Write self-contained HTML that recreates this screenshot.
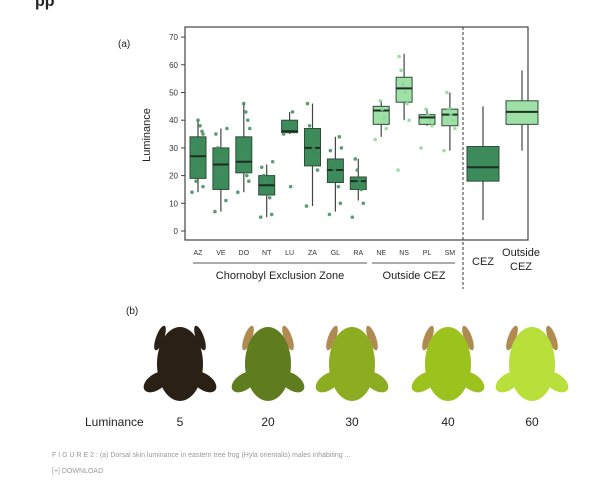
<!DOCTYPE html>
<html><head><meta charset="utf-8"><style>
body{margin:0;width:614px;height:489px;background:#fff;overflow:hidden;font-family:"Liberation Sans",sans-serif;}
svg{position:absolute;left:0;top:0}
</style></head><body>
<svg id="s" width="614" height="489">
<text x="35" y="6" font-size="16" font-weight="bold" fill="#222">pp</text>
<text x="118" y="47" font-size="10" fill="#222">(a)</text>
<rect x="185" y="27" width="343" height="213" fill="none" stroke="#444" stroke-width="1.2"/>
<line x1="463" y1="27" x2="463" y2="289" stroke="#333" stroke-dasharray="3,2"/>
<text transform="translate(150,135) rotate(-90)" text-anchor="middle" font-size="11" fill="#222">Luminance</text>
<g id="plot"></g>
<line x1="193" y1="263" x2="367" y2="263" stroke="#555"/>
<line x1="372" y1="263" x2="455" y2="263" stroke="#555"/>
<text x="280" y="279" text-anchor="middle" font-size="11" fill="#222">Chornobyl Exclusion Zone</text>
<text x="414" y="279" text-anchor="middle" font-size="11" fill="#222">Outside CEZ</text>
<text x="483" y="265" text-anchor="middle" font-size="11" fill="#222">CEZ</text>
<text x="521" y="256" text-anchor="middle" font-size="11" fill="#222">Outside</text>
<text x="521" y="270" text-anchor="middle" font-size="11" fill="#222">CEZ</text>
<text x="126" y="314" font-size="10" fill="#222">(b)</text>
<g id="frogs"></g>
<text x="85" y="426" font-size="12" fill="#222">Luminance</text>
<text x="52" y="457" font-size="7" fill="#999">F I G U R E 2 : (a) Dorsal skin luminance in eastern tree frog (Hyla orientalis) males inhabiting ...</text>
<text x="52" y="473" font-size="7" fill="#999">[+]  DOWNLOAD</text>
</svg>
<script>
const cats=["AZ","VE","DO","NT","LU","ZA","GL","RA","NE","NS","PL","SM"];
const q1=[19,15,21,13,35.5,23.5,17.5,15,38.5,46.5,38.5,38];
const med=[27,24,25,16.5,36,30,22,18,43.5,51.5,41,42];
const q3=[34,30,34,20,40,37,26,19.5,45,55.5,42,44];
const lo=[14,7,14,5,35,9,7,11,34,40,38,29];
const hi=[40,37,46,24,43,46,34,26,47,64,44,50];
const pts=[[14,16,20,22,25,28,30,33,36,38,40,18,24,31,35],[7,11,18,22,26,30,35,37],[14,18,20,23,27,30,33,37,40,43,46],[5,6,12,15,18,20,23,25],[35,38,43,16],[9,22,26,30,34,38,46],[6,10,16,19,22,25,29,30,34],[5,10,15,18,22,26],[33,37,41,44,47],[22,40,46,50,53,58,63],[30,38,40,42,44],[29,37,40,42,44,50]];
const sumCats=["CEZ","Outside CEZ"];
const sq1=[18,38.5],smed=[23,43],sq3=[30.5,47],slo=[4,29],shi=[45,58];
const yTicks=[0,10,20,30,40,50,60,70];
const frogLum=[5,20,30,40,60];
const frogCol=["#2b2016","#5f7d1f","#8cad22","#9cc21e","#b9df3a"];
const NS="http://www.w3.org/2000/svg";
function y(v){return 231-v*2.77;}
function x(i){return 198+i*22.9;}
function sx(i){return 483+i*39;}
function mk(t,a,p){const e=document.createElementNS(NS,t);for(const k in a)e.setAttribute(k,a[k]);(p||g).appendChild(e);return e;}
const g=document.getElementById('plot');
yTicks.forEach(v=>{
  const l=mk('line',{x1:181,x2:185,y1:y(v),y2:y(v),stroke:'#444'});
  
  
  const t=mk('text',{x:178,y:y(v)+3,'text-anchor':'end','font-size':8,fill:'#333'});t.textContent=v;
  
  
});
function box(cx,w,a,m,b,l,h,fill,name){
  const wl=mk('line',{x1:cx,x2:cx,y1:y(h),y2:y(l),stroke:'#444','stroke-width':1.2});
  
  
  const r=mk('rect',{x:cx-w/2,y:y(b),width:w,height:y(a)-y(b),fill:fill,stroke:'#2e4d38','stroke-width':1});
  
  
  const ml=mk('line',{x1:cx-w/2,x2:cx+w/2,y1:y(m),y2:y(m),stroke:'#1d2e22','stroke-width':2});
  
  
}
cats.forEach((c,i)=>{
  const out=i>=8;
  box(x(i),16,q1[i],med[i],q3[i],lo[i],hi[i],out?'#9fe0a6':'#3d8a5a','box-'+c.toLowerCase());
  pts[i].forEach((v,j)=>{
    const p=mk('circle',{cx:x(i)+((j*37)%13-6),cy:y(v),r:1.8,fill:out?'#8ed69a':'#3f8d5c',opacity:0.85});
    
    
  });
  const t=mk('text',{x:x(i),y:255,'text-anchor':'middle','font-size':7,fill:'#333'});t.textContent=c;
  
  
});
sumCats.forEach((c,i)=>box(sx(i),32,sq1[i],smed[i],sq3[i],slo[i],shi[i],i?'#9fe0a6':'#3d8a5a','box-summary-'+i));
const fg=document.getElementById('frogs');
const fx=[180,268,352,448,532];
frogLum.forEach((v,i)=>{
  const cx=fx[i],c=frogCol[i];
  const f=mk('g',{},fg);
  
  
  mk('ellipse',{cx:cx-24,cy:382,rx:14,ry:8,fill:c,transform:`rotate(-35 ${cx-24} 382)`},f);
  mk('ellipse',{cx:cx+24,cy:382,rx:14,ry:8,fill:c,transform:`rotate(35 ${cx+24} 382)`},f);
  mk('ellipse',{cx:cx-20,cy:338,rx:4,ry:13,fill:i?'#b08a50':c,transform:`rotate(20 ${cx-20} 338)`},f);
  mk('ellipse',{cx:cx+20,cy:338,rx:4,ry:13,fill:i?'#b08a50':c,transform:`rotate(-20 ${cx+20} 338)`},f);
  mk('ellipse',{cx:cx,cy:364,rx:23,ry:37,fill:c},f);
  const t=mk('text',{x:cx,y:426,'text-anchor':'middle','font-size':12,fill:'#222'},fg);t.textContent=v;
  
  
});
</script>
</body></html>
